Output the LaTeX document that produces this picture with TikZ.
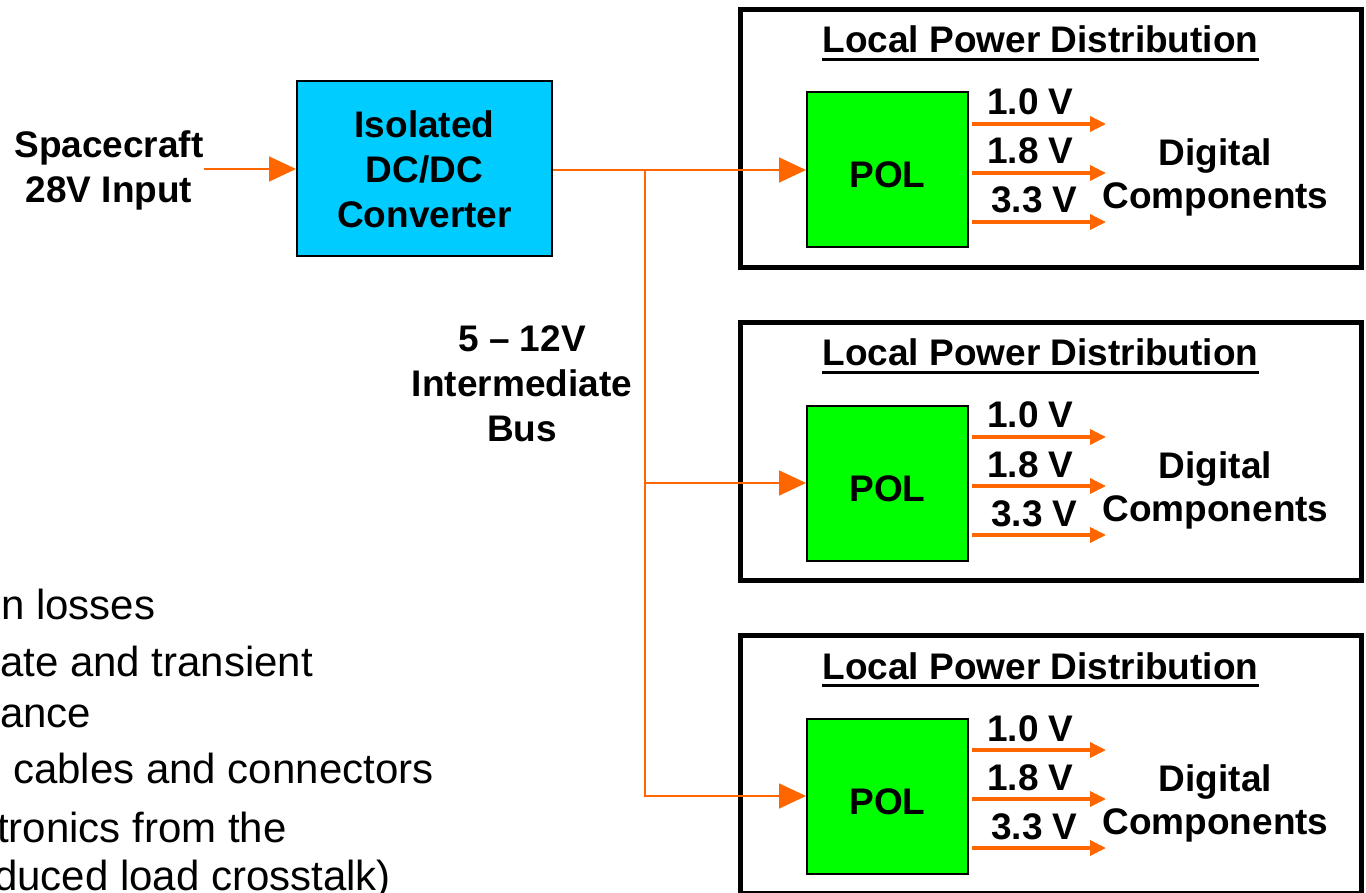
\documentclass[tikz,border=0pt]{standalone}
\usepackage{fontspec}
\setmainfont{Liberation Sans}
\usetikzlibrary{arrows.meta}
\definecolor{busorange}{RGB}{255,102,0}
\definecolor{dccyan}{RGB}{0,204,255}
\definecolor{polgreen}{RGB}{0,255,0}

\begin{document}
\begin{tikzpicture}[x=1pt,y=-1pt,
  lbl/.style={font=\bfseries\fontsize{37}{45}\selectfont, inner sep=0, align=center},
  note/.style={font=\fontsize{42}{50}\selectfont, inner sep=0, anchor=base west},
  wire/.style={draw=busorange, line width=1.8pt},
  feed/.style={wire, -{Triangle[length=27pt,width=25pt]}},
  rail/.style={draw=busorange, line width=3.5pt, shorten <=3pt, -{Triangle[length=16pt,width=15pt]}},
  convbox/.style={lbl, draw, fill=dccyan, line width=2pt, minimum width=255pt, minimum height=175pt},
  polbox/.style={lbl, draw, fill=polgreen, line width=2pt, minimum width=161pt, minimum height=155pt, text height=36pt, text depth=0pt},
  distbox/.style={draw, line width=5pt, minimum width=621pt, minimum height=258pt, inner sep=0}]
  \useasboundingbox (0,0) rectangle (1366,893);
  \clip (0,0) rectangle (1366,893);

  \node[lbl] (src) at (109,170) {Spacecraft\\28V Input};
  \node[convbox] (conv) at (424.5,169) {Isolated\\DC/DC\\Converter};
  \node[lbl] (bus) at (522,384) {5 – 12V\\Intermediate\\Bus};
  \draw[feed] (src.east |- conv.west) -- (conv.west);

  \foreach \i/\dy in {1/0,2/313,3/626}{
    \node[distbox] (dist\i) at (1050.5,138.5+\dy) {};
    \node[lbl, anchor=base] (ttl\i) at (1040.5,53+\dy) {Local Power Distribution};
    \draw[line width=3pt] ([yshift=-6.5pt]ttl\i.base west) -- ([yshift=-6.5pt]ttl\i.base east);
    \node[polbox] (pol\i) at (887.5,170+\dy) {POL};
    \node[lbl, font=\bfseries\fontsize{37}{43}\selectfont] (dig\i) at (1215.5,177+\dy) {Digital\\Components};
    \foreach \v/\x/\y [count=\k] in {1.0/1030.5/124, 1.8/1030.5/173, 3.3/1034.5/222}{
      \coordinate (tip\i\k) at (1106,\y+\dy);
      \draw[rail] (pol\i.east |- tip\i\k) -- (tip\i\k);
      \node[lbl, anchor=base] (volt\i\k) at (\x,\y-9+\dy) {\v\ V};
    }
  }

  \coordinate (tee) at (645,170);
  \draw[feed] (conv.east |- pol1.west) -- (pol1.west);
  \draw[feed] (tee) |- (pol2.west);
  \draw[feed] (tee) |- (pol3.west);

  \node[note] (loss) at (1,619) {n losses};
  \node[note] (state) at (0,676) {ate and transient};
  \node[note] (ance) at (0,727) {ance};
  \node[note] (cable) at (13,783) {cables and connectors};
  \node[note] (elec) at (-3,842) {tronics from the};
  \node[note] (xtalk) at (-6,890) {duced load crosstalk)};
\end{tikzpicture}
\end{document}
